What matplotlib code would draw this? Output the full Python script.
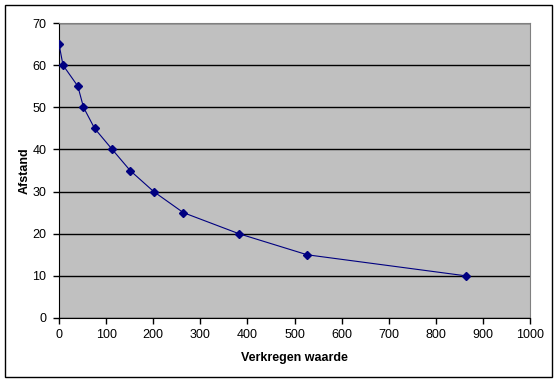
import matplotlib.pyplot as plt
from matplotlib.patches import Rectangle

# data
verkregen = [0, 8.5, 40, 52, 75.5, 113, 151, 201, 264, 382, 527, 864]
afstand = [65, 60, 55, 50, 45, 40, 35, 30, 25, 20, 15, 10]

plt.rcParams['font.family'] = ['Liberation Sans', 'DejaVu Sans']

fig = plt.figure(figsize=(5.56, 3.81), dpi=100)
ax = fig.add_axes([59 / 556, 1 - 318 / 381, 471 / 556, 295 / 381])

ax.set_facecolor('#c0c0c0')
ax.plot(verkregen, afstand, color='#000080', lw=0.8, marker='D', ms=4,
        markerfacecolor='#000080', markeredgecolor='#000080', zorder=3)

ax.set_xlim(0, 1000)
ax.set_ylim(0, 70)
ax.set_xticks(range(0, 1001, 100))
ax.set_yticks(range(0, 71, 10))
ax.yaxis.grid(True, color='black', lw=1)
ax.set_axisbelow(True)

for s in ['top', 'right']:
    ax.spines[s].set_color('#808080')
for s in ['left', 'bottom']:
    ax.spines[s].set_color('black')
ax.tick_params(direction='out', length=4, width=1, labelsize=9, pad=4)
ax.tick_params(axis='y', pad=5)

ax.set_xlabel('Verkregen waarde', fontsize=9, fontweight='bold', labelpad=8)
ax.set_ylabel('Afstand', fontsize=9, fontweight='bold', labelpad=1)

fig.patches.append(Rectangle((5 / 556, 4 / 381), 547 / 556, 372 / 381,
                             transform=fig.transFigure, fill=False,
                             edgecolor='black', lw=1))

fig.savefig('out.png', dpi=100)
